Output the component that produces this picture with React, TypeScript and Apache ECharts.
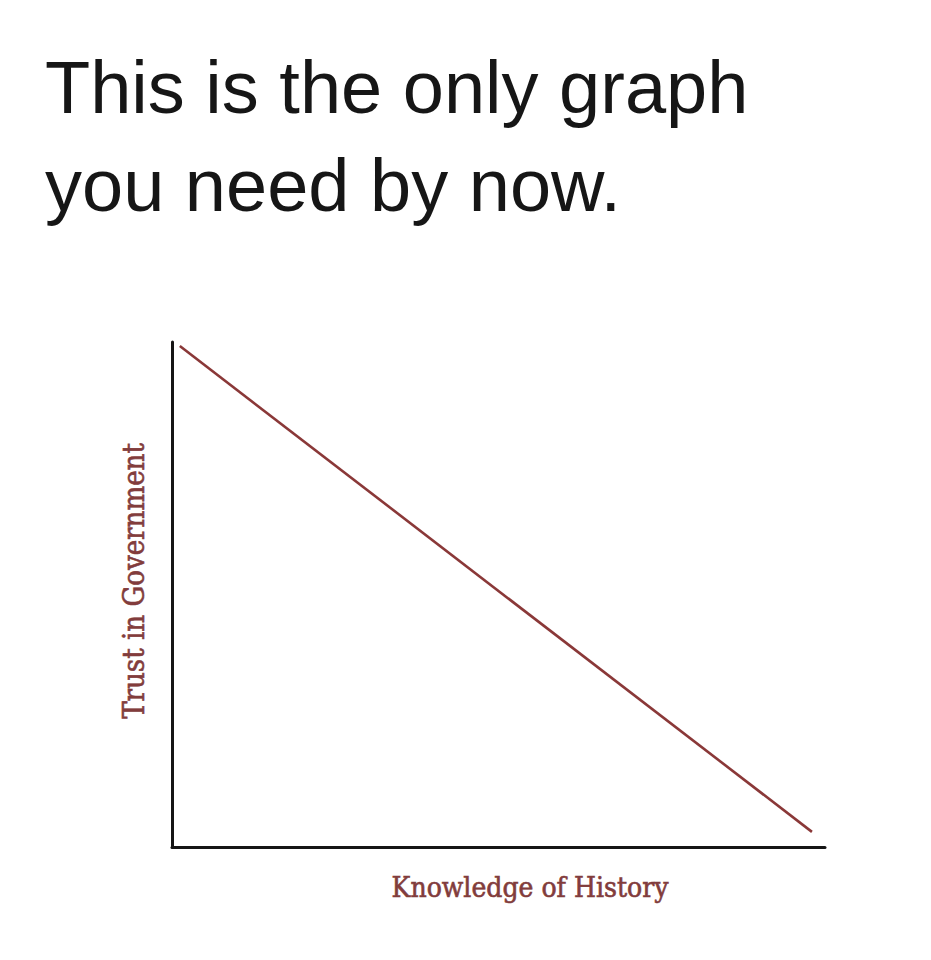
import React, { useEffect, useRef } from "react";
import * as echarts from "echarts";

const titleLines = ["This is the only graph", "you need by now."];
const xAxisLabel = "Knowledge of History";
const yAxisLabel = "Trust in Government";
const knowledge = [1.2, 98.0];
const trust = [99.2, 3.0];

const LABEL_COLOR = "#823c3c";
const LINE_COLOR = "#8a3838";
const LABEL_FONT = "'DejaVu Serif Condensed', 'DejaVu Serif', serif";

export default function App() {
  const ref = useRef<HTMLDivElement>(null);
  useEffect(() => {
    if (!ref.current) return;
    const chart = echarts.init(ref.current, null, { renderer: "svg" });
    const points = knowledge.map((k, i) => [k, trust[i]]);
    chart.setOption({
      animation: false,
      backgroundColor: "#ffffff",
      title: {
        text: titleLines.join("\n"),
        left: 45,
        top: 38,
        padding: 0,
        textStyle: {
          fontFamily: "'Liberation Sans', Arial, sans-serif",
          fontSize: 74,
          fontWeight: "normal",
          color: "#161616",
          lineHeight: 98,
        },
      },
      grid: { left: 172, top: 342, width: 653, height: 505 },
      xAxis: {
        type: "value",
        min: 0,
        max: 100,
        axisLine: { show: true, lineStyle: { color: "#151515", width: 3 } },
        axisTick: { show: false },
        axisLabel: { show: false },
        splitLine: { show: false },
      },
      yAxis: {
        type: "value",
        min: 0,
        max: 100,
        axisLine: { show: true, lineStyle: { color: "#151515", width: 3 } },
        axisTick: { show: false },
        axisLabel: { show: false },
        splitLine: { show: false },
      },
      graphic: [
        {
          type: "text",
          x: 530,
          y: 887,
          style: {
            text: xAxisLabel,
            fontFamily: LABEL_FONT,
            fontSize: 28,
            fill: LABEL_COLOR,
            stroke: LABEL_COLOR,
            lineWidth: 0.6,
            align: "center",
            verticalAlign: "middle",
          },
        },
        {
          type: "text",
          x: 134,
          y: 581,
          rotation: Math.PI / 2,
          style: {
            text: yAxisLabel,
            fontFamily: LABEL_FONT,
            fontSize: 29,
            fill: LABEL_COLOR,
            stroke: LABEL_COLOR,
            lineWidth: 0.6,
            align: "center",
            verticalAlign: "middle",
          },
        },
      ],
      series: [
        {
          type: "line",
          data: points,
          symbol: "none",
          lineStyle: { color: LINE_COLOR, width: 2.6 },
        },
      ],
    });
    return () => chart.dispose();
  }, []);
  return (
    <div
      ref={ref}
      style={{ position: "absolute", left: 0, top: 0, width: 931, height: 960 }}
    />
  );
}
